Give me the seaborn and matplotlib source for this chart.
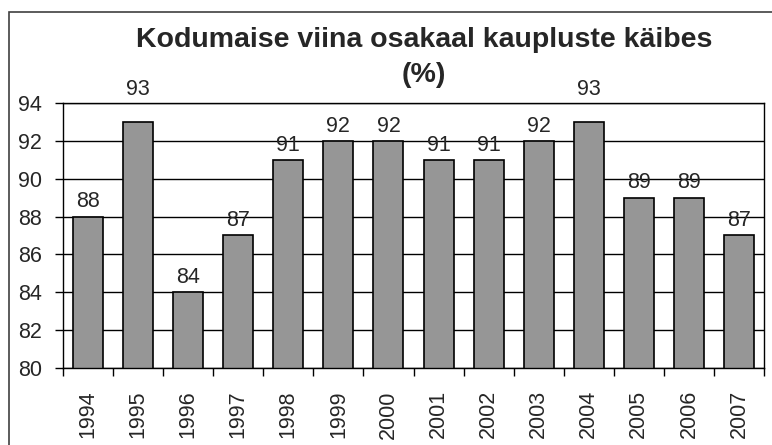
import matplotlib
matplotlib.use("Agg")
import matplotlib.pyplot as plt
import seaborn as sns
import pandas as pd
import numpy as np
from matplotlib.patches import Rectangle

aastad = ["1994", "1995", "1996", "1997", "1998", "1999", "2000",
          "2001", "2002", "2003", "2004", "2005", "2006", "2007"]
osakaal = [88, 93, 84, 87, 91, 92, 92, 91, 91, 92, 93, 89, 89, 87]

df = pd.DataFrame({"aasta": aastad, "osakaal": osakaal})

sns.set_style("white")
plt.rcParams['font.family'] = ['Liberation Sans', 'DejaVu Sans']

fig = plt.figure(figsize=(7.72, 4.45), dpi=100)
ax = fig.add_axes([63/772, 1-368/445, (764-63)/772, (368-103)/445])

sns.barplot(data=df, x="aasta", y="osakaal", color="#969696", saturation=1,
            edgecolor="black", linewidth=1.2, width=0.6, ax=ax)

ax.set_ylim(80, 94)
ax.set_yticks(np.arange(80, 95, 2))
ax.set_xlim(-0.5, len(aastad) - 0.5)
ax.yaxis.grid(True, color="black", linewidth=1)
ax.set_axisbelow(True)
for s in ax.spines.values():
    s.set_color("black")
    s.set_linewidth(1)
    s.set_visible(True)

ax.set_xlabel("")
ax.set_ylabel("")
ax.tick_params(axis="y", left=True, length=6, width=1, color="black",
               labelsize=15.5, pad=9)
ax.set_xticks(range(len(aastad)))
ax.set_xticklabels(aastad, rotation=90, fontsize=15.5)
ax.tick_params(axis="x", which="major", length=0, pad=16)
ax.set_xticks(np.arange(-0.5, len(aastad), 1), minor=True)
ax.tick_params(axis="x", which="minor", bottom=True, length=6, width=1,
               color="black")

# sildid; üle ülaserva ulatuvad tõstetakse kõrgemale nagu Excelis
for c in ax.containers:
    sildid = ax.bar_label(c, fontsize=15.5, padding=3, clip_on=False)
    for t, v in zip(sildid, osakaal):
        if v > 92:
            t.xyann = (0, 16)

fig.text(424/772, 1-40/445, "Kodumaise viina osakaal kaupluste käibes",
         ha="center", va="center", fontsize=20.5, fontweight="bold")
fig.text(424/772, 1-75/445, "(%)", ha="center", va="center",
         fontsize=20.5, fontweight="bold")

fig.patches.append(Rectangle((9/772, -0.1), 1.1, 0.1 + (1-12/445),
                             transform=fig.transFigure, fill=False,
                             edgecolor="#404040", linewidth=1.2))

fig.savefig("out.png", dpi=100)
